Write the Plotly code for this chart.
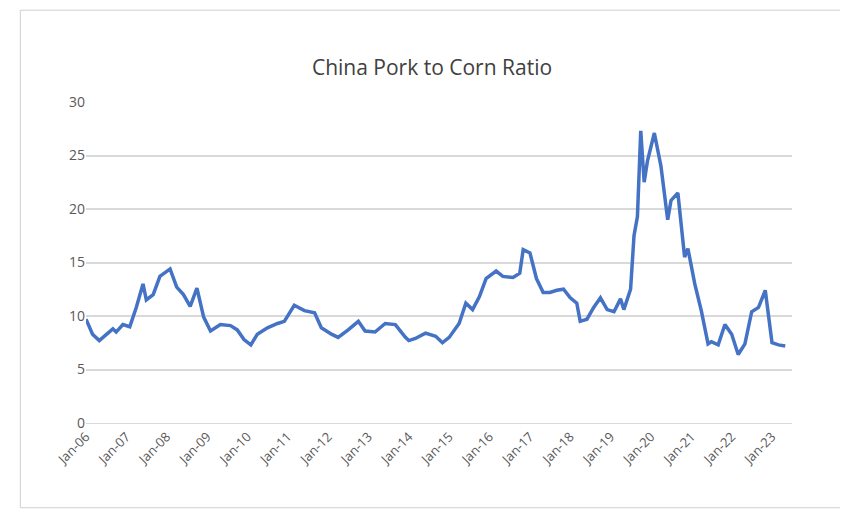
import plotly.graph_objects as go

dates = ["2006-01","2006-03","2006-05","2006-07","2006-09","2006-10","2006-12","2007-02","2007-04","2007-06",
"2007-07","2007-09","2007-11","2008-02","2008-04","2008-06","2008-08","2008-10","2008-12","2009-02",
"2009-05","2009-08","2009-10","2009-12","2010-02","2010-04","2010-07","2010-10","2010-12","2011-03",
"2011-06","2011-09","2011-11","2012-02","2012-04","2012-07","2012-10","2012-12","2013-03","2013-06",
"2013-09","2013-12","2014-01","2014-03","2014-06","2014-09","2014-11","2015-01","2015-04","2015-06",
"2015-08","2015-10","2015-12","2016-03","2016-05","2016-08","2016-10","2016-11","2017-01","2017-03",
"2017-05","2017-07","2017-09","2017-11","2018-01","2018-03","2018-04","2018-06","2018-08","2018-10",
"2018-12","2019-02","2019-04","2019-05","2019-07","2019-08","2019-09","2019-10","2019-11","2019-12",
"2020-02","2020-04","2020-06","2020-07","2020-09","2020-11","2020-12","2021-02","2021-04","2021-06",
"2021-07","2021-09","2021-11","2022-01","2022-03","2022-05","2022-07","2022-09","2022-11","2023-01",
"2023-03","2023-05"]
ratio = [9.7,8.3,7.7,8.2,8.8,8.5,9.2,9.0,10.8,13.0,
11.5,12.0,13.7,14.4,12.7,12.0,10.9,12.6,9.9,8.6,
9.2,9.1,8.7,7.8,7.3,8.3,8.9,9.3,9.5,11.0,
10.5,10.3,8.9,8.3,8.0,8.7,9.5,8.6,8.5,9.3,
9.2,8.0,7.7,7.9,8.4,8.1,7.5,8.0,9.3,11.2,
10.6,11.8,13.5,14.2,13.7,13.6,14.0,16.2,15.9,13.5,
12.2,12.2,12.4,12.5,11.7,11.2,9.5,9.7,10.8,11.7,
10.6,10.4,11.6,10.6,12.5,17.5,19.3,27.3,22.5,24.5,
27.1,24.0,19.0,20.8,21.5,15.5,16.3,13.0,10.5,7.4,
7.6,7.3,9.2,8.3,6.4,7.4,10.4,10.8,12.4,7.5,
7.3,7.2]
dates = [d + "-01" for d in dates]

fig = go.Figure(go.Scatter(x=dates, y=ratio, mode="lines",
                           line=dict(color="#4472C4", width=3.5)))
fig.update_layout(
    width=848, height=527, paper_bgcolor="white", plot_bgcolor="white",
    margin=dict(l=78, r=64, t=94, b=112),
    title=dict(text="China Pork to Corn Ratio", x=0.5, xanchor="center", y=0.9,
               font=dict(family="Open Sans", size=21, color="#404040")),
    showlegend=False,
    font=dict(family="Open Sans", color="#595959", size=14),
    shapes=[dict(type="rect", xref="paper", yref="paper", x0=-0.093, x1=1.072, y0=-0.264, y1=1.286,
                 line=dict(color="#d0d0d0", width=1))],
)
fig.update_xaxes(type="date", range=["2006-01-01", "2023-07-01"], dtick="M12", tick0="2006-01-01",
                 tickformat="%b-%y", tickangle=-45, showgrid=False, showline=True,
                 linecolor="#d9d9d9", ticks="", tickfont=dict(size=13))
fig.update_yaxes(range=[0, 30], dtick=5, gridcolor="#d9d9d9", gridwidth=1.5, zeroline=False,
                 ticks="", tickfont=dict(size=14))
fig.write_html("out.html")
